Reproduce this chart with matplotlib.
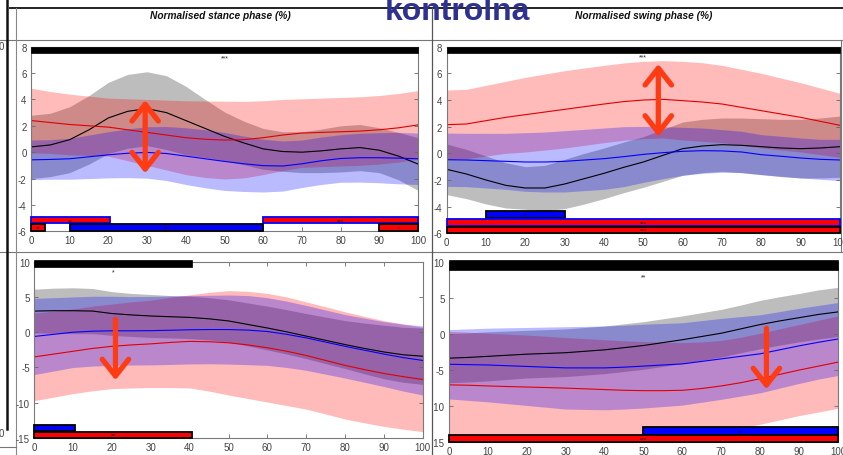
import numpy as np
import matplotlib
matplotlib.use("Agg")
import matplotlib.pyplot as plt
from matplotlib.patches import Rectangle, FancyArrowPatch
from matplotlib.lines import Line2D
from matplotlib.transforms import Bbox

plt.rcParams['font.family'] = ['Liberation Sans', 'DejaVu Sans']
plt.rcParams['axes.unicode_minus'] = False

W, H = 843, 456

# normalised phase (%)
pct = [0, 5, 10, 15, 20, 25, 30, 35, 40, 45, 50, 55, 60, 65, 70, 75, 80, 85, 90, 95, 100]

# --- stance phase, upper row ---
tl_black_mean = [0.40, 0.55, 0.95, 1.70, 2.60, 3.10, 3.30, 3.00, 2.40, 1.80, 1.20, 0.70, 0.25, 0.05, 0.00, 0.10, 0.25, 0.35, 0.15, -0.30, -0.90]
tl_black_sd = [2.4, 2.4, 2.5, 2.6, 2.7, 2.8, 2.8, 2.8, 2.6, 2.2, 1.85, 1.65, 1.55, 1.5, 1.55, 1.65, 1.75, 1.75, 1.7, 1.8, 2.0]
tl_red_mean = [2.40, 2.25, 2.10, 2.00, 1.90, 1.70, 1.50, 1.30, 1.10, 0.98, 0.92, 0.95, 1.10, 1.30, 1.45, 1.50, 1.55, 1.60, 1.70, 1.85, 2.07]
tl_red_sd = [2.45, 2.35, 2.30, 2.25, 2.20, 2.35, 2.50, 2.65, 2.80, 2.90, 2.95, 2.90, 2.80, 2.70, 2.60, 2.60, 2.60, 2.60, 2.60, 2.60, 2.60]
tl_blue_mean = [-0.58, -0.55, -0.50, -0.35, -0.20, -0.08, -0.02, -0.10, -0.30, -0.50, -0.70, -0.88, -1.02, -1.05, -0.88, -0.65, -0.48, -0.42, -0.42, -0.45, -0.50]
tl_blue_sd = [1.5, 1.5, 1.55, 1.65, 1.75, 1.85, 1.95, 2.05, 2.15, 2.2, 2.2, 2.1, 2.0, 1.9, 1.8, 1.8, 1.8, 1.85, 1.9, 1.95, 1.95]

# --- swing phase, upper row ---
tr_black_mean = [-1.20, -1.55, -2.00, -2.40, -2.60, -2.60, -2.30, -1.90, -1.50, -1.05, -0.65, -0.15, 0.35, 0.55, 0.65, 0.60, 0.50, 0.40, 0.35, 0.40, 0.50]
tr_black_sd = [1.9, 1.85, 1.8, 1.7, 1.6, 1.7, 1.85, 1.9, 1.9, 1.9, 1.9, 1.95, 2.0, 2.0, 2.0, 2.05, 2.1, 2.15, 2.2, 2.25, 2.3]
tr_red_mean = [2.15, 2.20, 2.45, 2.70, 2.90, 3.10, 3.30, 3.50, 3.70, 3.88, 4.00, 4.05, 3.95, 3.85, 3.70, 3.45, 3.20, 2.95, 2.70, 2.40, 2.10]
tr_red_sd = [2.6, 2.6, 2.65, 2.7, 2.8, 2.85, 2.9, 2.9, 2.9, 2.9, 2.9, 2.9, 2.95, 2.95, 2.9, 2.85, 2.8, 2.7, 2.6, 2.5, 2.4]
tr_blue_mean = [-0.48, -0.50, -0.55, -0.60, -0.65, -0.65, -0.60, -0.50, -0.40, -0.25, -0.08, 0.05, 0.15, 0.20, 0.18, 0.10, -0.10, -0.22, -0.35, -0.45, -0.50]
tr_blue_sd = [2.0, 2.0, 2.05, 2.1, 2.2, 2.25, 2.3, 2.3, 2.3, 2.25, 2.1, 1.95, 1.8, 1.7, 1.6, 1.55, 1.5, 1.5, 1.5, 1.5, 1.55]

# --- stance phase, lower row ---
bl_black_mean = [3.00, 3.05, 3.05, 3.00, 2.65, 2.45, 2.30, 2.20, 2.10, 1.90, 1.60, 1.10, 0.60, 0.05, -0.55, -1.15, -1.75, -2.30, -2.80, -3.20, -3.40]
bl_black_sd = [3.1, 3.2, 3.25, 3.2, 3.1, 3.05, 3.05, 3.0, 3.0, 3.0, 3.0, 3.05, 3.1, 3.15, 3.2, 3.3, 3.4, 3.6, 3.8, 3.9, 4.0]
bl_red_mean = [-3.50, -3.10, -2.70, -2.30, -2.00, -1.80, -1.65, -1.45, -1.30, -1.35, -1.50, -1.80, -2.20, -2.70, -3.30, -4.00, -4.70, -5.30, -5.85, -6.30, -6.70]
bl_red_sd = [6.2, 6.1, 6.0, 6.0, 6.0, 6.1, 6.2, 6.4, 6.6, 7.0, 7.4, 7.6, 7.7, 7.7, 7.6, 7.6, 7.6, 7.55, 7.5, 7.45, 7.4]
bl_blue_mean = [-0.60, -0.30, 0.00, 0.15, 0.20, 0.20, 0.22, 0.28, 0.35, 0.38, 0.38, 0.30, 0.10, -0.30, -0.80, -1.40, -2.00, -2.55, -3.10, -3.60, -4.00]
bl_blue_sd = [5.4, 5.2, 5.0, 4.95, 4.9, 4.85, 4.85, 4.85, 4.85, 4.85, 4.9, 4.9, 4.8, 4.7, 4.6, 4.55, 4.5, 4.55, 4.6, 4.75, 4.9]

# --- swing phase, lower row ---
br_black_mean = [-3.35, -3.25, -3.10, -2.95, -2.80, -2.70, -2.60, -2.40, -2.20, -1.90, -1.60, -1.20, -0.80, -0.35, 0.10, 0.70, 1.30, 1.80, 2.25, 2.70, 3.05]
br_black_sd = [3.4, 3.4, 3.4, 3.35, 3.3, 3.3, 3.3, 3.3, 3.3, 3.3, 3.3, 3.3, 3.3, 3.3, 3.3, 3.3, 3.35, 3.35, 3.35, 3.4, 3.4]
br_red_mean = [-7.05, -7.10, -7.20, -7.28, -7.35, -7.42, -7.50, -7.60, -7.70, -7.80, -7.85, -7.85, -7.80, -7.55, -7.20, -6.75, -6.20, -5.60, -5.00, -4.45, -3.90]
br_red_sd = [7.4, 7.35, 7.3, 7.25, 7.2, 7.1, 7.0, 6.95, 6.9, 6.85, 6.8, 6.7, 6.6, 6.45, 6.3, 6.3, 6.3, 6.3, 6.3, 6.35, 6.4]
br_blue_mean = [-4.20, -4.25, -4.30, -4.40, -4.50, -4.60, -4.70, -4.70, -4.70, -4.60, -4.45, -4.30, -4.15, -3.80, -3.45, -3.10, -2.75, -2.20, -1.65, -1.15, -0.70]
br_blue_sd = [4.8, 4.95, 5.1, 5.25, 5.4, 5.55, 5.7, 5.75, 5.8, 5.8, 5.8, 5.75, 5.7, 5.65, 5.6, 5.5, 5.4, 5.3, 5.2, 5.1, 5.05]

# significant intervals: (start, end, row, kind, stars)
tl_main = (0, 100, '***')
tl_bars = [(0, 20.5, 0, 'rb', '**'), (60, 100, 0, 'rb', '***'),
           (0, 3.7, 1, 'rk', '**'), (10, 60, 1, 'bk', '***'), (90, 100, 1, 'rk', '*')]
tr_main = (0, 100, '***')
tr_bars = [(10, 30, 0, 'bk', '*'), (0, 100, 1, 'rb', '***'), (0, 100, 2, 'rk', '***')]
bl_main = (0, 40.5, '*')
bl_bars = [(0, 10.5, 0, 'bk', '*'), (0, 40.5, 1, 'rk', '**')]
br_main = (0, 100, '**')
br_bars = [(50, 100, 0, 'bk', '**'), (0, 100, 1, 'rk', '***')]

# arrows: (x, from, to, double headed)
tl_arrow = (29.5, -1.6, 3.95, True)
tr_arrow = (53.8, 1.25, 6.7, True)
bl_arrow = (20.9, 1.8, -6.8, False)
br_arrow = (81.6, 0.8, -7.65, False)

BAR_STYLE = {'rb': ('#ff0000', '#0000ff'), 'rk': ('#ff0000', '#000000'), 'bk': ('#0000ff', '#000000')}


def fx(x):
    return x / W


def fy(y):
    return 1 - y / H


def add_axes(left, right, top, bottom):
    return fig.add_axes([fx(left), fy(bottom), (right - left) / W, (bottom - top) / H])


def panel(ax, data, ylim, yticks, main, main_y, main_txt_y, bars, rows, arrow, clip_left=None):
    bm, bs, rm, rs, um, us = [np.array(a) for a in data]
    x = np.array(pct)
    ax.fill_between(x, bm - bs, bm + bs, color='k', alpha=0.26, lw=0)
    ax.fill_between(x, rm - rs, rm + rs, color='#ff0000', alpha=0.27, lw=0)
    ax.fill_between(x, um - us, um + us, color='#0000ff', alpha=0.27, lw=0)
    ax.plot(x, bm, color='k', lw=0.8)
    ax.plot(x, rm, color='#e00000', lw=0.8)
    ax.plot(x, um, color='#0000ff', lw=0.8)

    ax.set_xlim(0, 100)
    ax.set_ylim(*ylim)
    ax.set_xticks(range(0, 101, 10))
    ax.set_yticks(yticks)
    ax.tick_params(direction='in', top=True, right=True, length=3, width=0.6,
                   color='#666666', labelcolor='#444444', labelsize=7, pad=3.2)
    ax.tick_params(axis='x', pad=2.6)
    for s in ax.spines.values():
        s.set_color('#7a7a7a')
        s.set_linewidth(0.8)

    # main effect bar on top
    x0, x1, txt = main
    ax.add_patch(Rectangle((x0, main_y[0]), x1 - x0, main_y[1] - main_y[0],
                           facecolor='k', edgecolor='k', lw=0.5, clip_on=False, zorder=5))
    ax.text((x0 + x1) / 2, main_txt_y, txt, fontsize=5, ha='center', va='center', color='#222222', zorder=6)

    # post-hoc bars at the bottom
    for x0, x1, row, kind, txt in bars:
        fc, ec = BAR_STYLE[kind]
        lo, hi = rows[row]
        ax.add_patch(Rectangle((x0, lo), x1 - x0, hi - lo, facecolor=fc, edgecolor=ec,
                               lw=1.3, clip_on=False, zorder=5))
        ax.text((x0 + x1) / 2, (lo + hi) / 2, txt, fontsize=4.5, ha='center', va='center',
                color='#330000', zorder=6)

    xa, ya0, ya1, both = arrow
    style = '<->,head_length=12,head_width=9.5' if both else '->,head_length=12,head_width=9.5'
    ax.add_patch(FancyArrowPatch((xa, ya0), (xa, ya1), arrowstyle=style, mutation_scale=1,
                                 color='#ff3b14', lw=3.8, capstyle='round', joinstyle='round',
                                 shrinkA=0, shrinkB=0, zorder=7, clip_on=False))

    if clip_left is not None:
        box = Bbox.from_extents(clip_left, 0, W, H)
        for t in ax.yaxis.get_major_ticks():
            t.label1.set_clip_box(box)
            t.label1.set_clip_on(True)


fig = plt.figure(figsize=(W / 100, H / 100), dpi=100)

ax_tl = add_axes(31, 418, 47.7, 232.3)
ax_tr = add_axes(446.7, 840, 47.7, 234.3)
ax_bl = add_axes(34.3, 422.7, 262.7, 439)
ax_br = add_axes(449, 838, 262.7, 443.3)

panel(ax_tl, (tl_black_mean, tl_black_sd, tl_red_mean, tl_red_sd, tl_blue_mean, tl_blue_sd),
      (-6, 8), range(-6, 9, 2), tl_main, (7.55, 8.0), 7.15, tl_bars,
      [(-5.4, -4.9), (-5.95, -5.45)], tl_arrow)
panel(ax_tr, (tr_black_mean, tr_black_sd, tr_red_mean, tr_red_sd, tr_blue_mean, tr_blue_sd),
      (-6, 8), range(-6, 9, 2), tr_main, (7.5, 8.0), 7.2, tr_bars,
      [(-4.85, -4.35), (-5.45, -4.9), (-6.0, -5.5)], tr_arrow, clip_left=434)
panel(ax_bl, (bl_black_mean, bl_black_sd, bl_red_mean, bl_red_sd, bl_blue_mean, bl_blue_sd),
      (-15, 10), range(-15, 11, 5), bl_main, (9.2, 10.2), 8.5, bl_bars,
      [(-14.0, -13.1), (-15.0, -14.1)], bl_arrow)
panel(ax_br, (br_black_mean, br_black_sd, br_red_mean, br_red_sd, br_blue_mean, br_blue_sd),
      (-15, 10), range(-15, 11, 5), br_main, (8.9, 10.2), 7.9, br_bars,
      [(-14.0, -12.9), (-15.0, -14.05)], br_arrow, clip_left=434)

# slide frame lines
def fig_line(x0, y0, x1, y1, color, lw):
    fig.add_artist(Line2D([fx(x0), fx(x1)], [fy(y0), fy(y1)], transform=fig.transFigure,
                          color=color, lw=lw, zorder=0))

fig_line(10, 8.5, W, 8.5, '#222222', 1.4)
fig_line(0, 40.8, W, 40.8, '#777777', 0.8)
fig_line(0, 252.5, W, 252.5, '#777777', 0.8)
fig_line(7, 0, 7, 430, '#111111', 1.8)
fig_line(15.5, 8.5, 15.5, H, '#888888', 0.8)
fig_line(432, 8.5, 432, H, '#555555', 0.9)
fig_line(841, 40.8, 841, 252.5, '#777777', 0.8)
fig_line(0, 448, 15.5, 448, '#777777', 0.8)

fig.text(fx(-1.5), fy(47), '0', fontsize=7, color='#444444', va='center')
fig.text(fx(-1.5), fy(434), '0', fontsize=7, color='#444444', va='center')

fig.text(fx(220), fy(16), 'Normalised stance phase (%)', fontsize=7.3, fontweight='bold',
         style='italic', ha='center', va='center', color='#111111')
fig.text(fx(643.5), fy(16), 'Normalised swing phase (%)', fontsize=7.3, fontweight='bold',
         style='italic', ha='center', va='center', color='#111111')
fig.text(fx(457), fy(20.5), 'kontrolna', fontsize=23, fontweight='bold', color='#2e3192',
         ha='center', va='baseline')

fig.savefig('out.png', dpi=100)
